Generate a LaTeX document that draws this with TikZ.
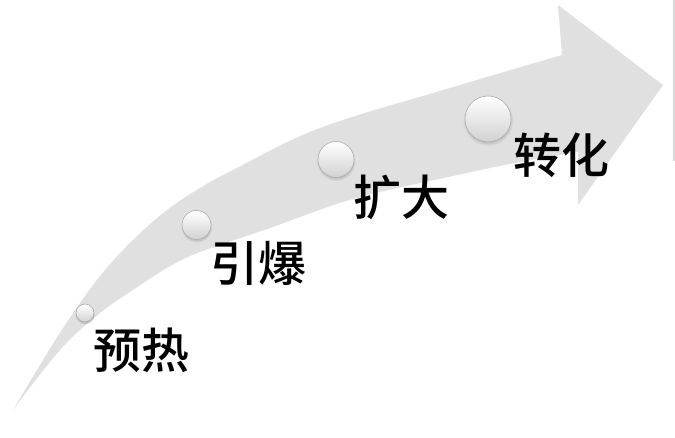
\documentclass[tikz,border=0pt]{standalone}
\usepackage{fontspec}
\newfontfamily\cjk{Noto Sans CJK SC Medium}
\usetikzlibrary{positioning}
\usetikzlibrary{shadows}
\definecolor{arrowgray}{RGB}{224,224,224}

\begin{document}
\begin{tikzpicture}[x=1pt, y=-1pt]
    \tikzstyle{bead}=[circle, draw=black!35, line width=0.5pt, inner sep=0pt, top color=white, middle color=white, bottom color=black!18, circular drop shadow={shadow xshift=0pt, shadow yshift=-1.5pt, opacity=0.3}]
    \tikzstyle{tag}=[inner sep=0pt, font=\cjk\fontsize{48}{48}\selectfont]

    \useasboundingbox (0,0) rectangle (675,438);

    % curved band with its head
    \fill[arrowgray] plot[smooth, tension=0.6] coordinates {(13,410) (40,365) (67,322) (100,276) (133,240) (167,210) (200,188) (233,170) (320,128) (450,88) (562,55)}
        -- (558,5) -- (663,85) -- (578,205) -- (578,152)
        -- plot[smooth, tension=0.6] coordinates {(578,152) (520,162) (453,176) (353,199) (270,228) (200,252) (167,268) (133,290) (100,313) (60,350) (13,410)} -- cycle;
    \draw[black!15, line width=1.2pt] (674,0) -- (674,161);

    \node[bead, minimum size=18pt] (b1) at (85,313) {};
    \node[bead, minimum size=29pt] (b2) at (196.5,225) {};
    \node[bead, minimum size=36pt] (b3) at (336,159.5) {};
    \node[bead, minimum size=46pt] (b4) at (488,119) {};

    \node[tag, below right=8.5pt and 2pt of b1] (t1) {预热};
    \node[tag, below right=5.7pt and 3.7pt of b2] (t2) {引爆};
    \node[tag, below right=2.8pt and 4.8pt of b3] (t3) {扩大};
    \node[tag, below right=-2.3pt and 9.2pt of b4] (t4) {转化};

\end{tikzpicture}
\end{document}
